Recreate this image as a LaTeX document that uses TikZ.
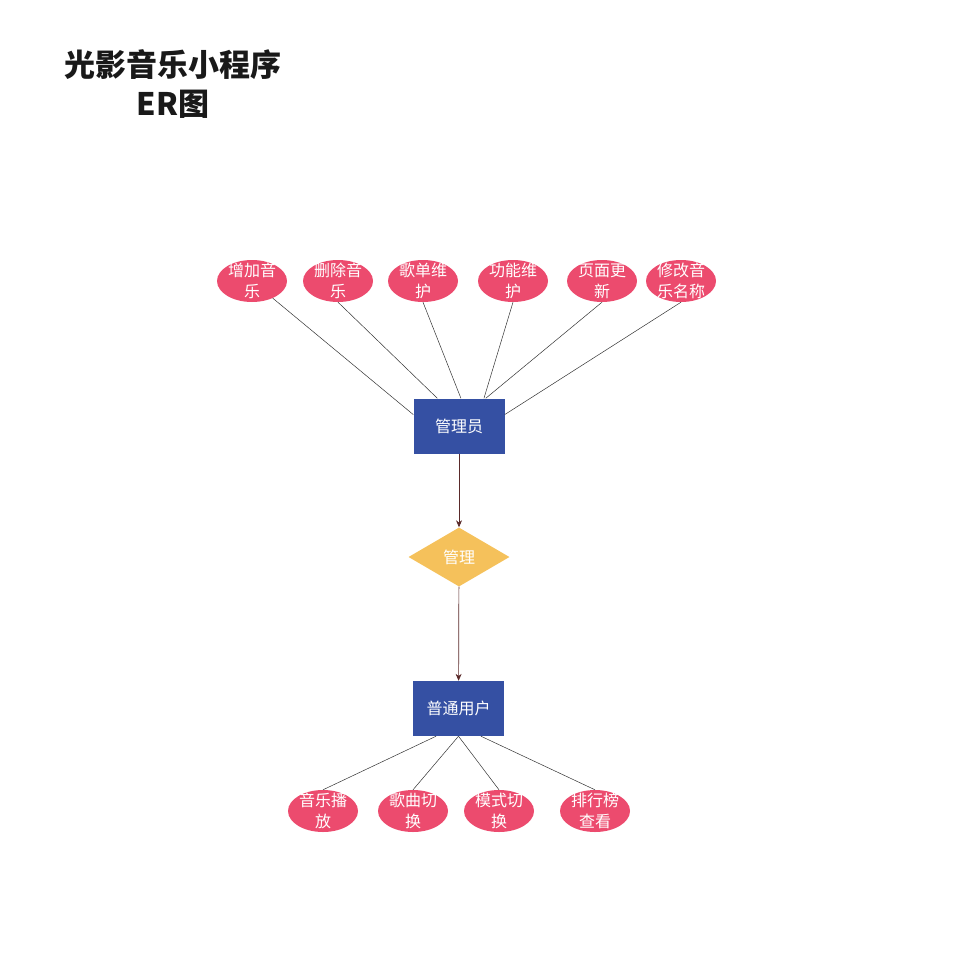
\documentclass[tikz,border=0pt]{standalone}
\usepackage{fontspec}
\usepackage{tikz}
\usetikzlibrary{shapes.geometric,arrows.meta}
\newfontfamily\cjk{Noto Sans CJK SC}
\definecolor{attrpink}{HTML}{EC4B6E}
\definecolor{entblue}{HTML}{3550A3}
\definecolor{relgold}{HTML}{F5C15B}
\definecolor{arrowbrown}{HTML}{5A2A2A}

\begin{document}
\begin{tikzpicture}[x=1pt,y=-1pt,
  attr/.style={ellipse,fill=attrpink,minimum width=70pt,minimum height=42pt,inner sep=0pt,
    label={[attrtext]center:#1}},
  attrtext/.style={text=white,align=center,font=\cjk\fontsize{16}{21}\selectfont},
  entity/.style={rectangle,fill=entblue,text=white,minimum width=91pt,minimum height=55pt,
    font=\cjk\fontsize{16}{18}\selectfont},
  relation/.style={diamond,fill=relgold,text=white,minimum width=101pt,minimum height=59pt,
    inner sep=0pt,aspect=1.7,font=\cjk\fontsize{16}{18}\selectfont},
  link/.style={draw=black!80,line width=0.5pt},
  flow/.style={draw=arrowbrown,line width=0.7pt,-{Stealth[length=7pt,width=6pt]}}]
\useasboundingbox (0,0) rectangle (953,975);
% title
\node[align=center,font=\cjk\bfseries\fontsize{31}{39}\selectfont,text=black!90] (title) at (173,84) {光影音乐小程序\\ER图};
% entities and relation
\node[entity] (admin) at (459,426) {管理员};
\node[relation] (manage) at (459,557) {管理};
\node[entity] (user) at (458.5,708.5) {普通用户};
% admin attributes
\node[attr={增加音\\乐}] (a1) at (252,281) {};
\node[attr={删除音\\乐}] (a2) at (338,281) {};
\node[attr={歌单维\\护}] (a3) at (423,281) {};
\node[attr={功能维\\护}] (a4) at (513,281) {};
\node[attr={页面更\\新}] (a5) at (602,281) {};
\node[attr={修改音\\乐名称}] (a6) at (681,281) {};
% user attributes
\node[attr={音乐播\\放}] (u1) at (323,811) {};
\node[attr={歌曲切\\换}] (u2) at (413,811) {};
\node[attr={模式切\\换}] (u3) at (499,811) {};
\node[attr={排行榜\\查看}] (u4) at (595,811) {};
% connectors
\draw[link] (a1) -- (admin.166);
\draw[link] (a2.south) -- (admin.128);
\draw[link] (a3.south) -- (admin.86);
\draw[link] (a4.south) -- (admin.48);
\draw[link] (a5.south) -- (admin.46);
\draw[link] (a6.south) -- (admin.14);
\draw[flow] (admin) -- (manage);
\draw[flow] (manage) -- (user);
\draw[link] (user.231) -- (u1.north);
\draw[link] (user.270) -- (u2.north);
\draw[link] (user.270) -- (u3.north);
\draw[link] (user.309) -- (u4.north);
\end{tikzpicture}
\end{document}
